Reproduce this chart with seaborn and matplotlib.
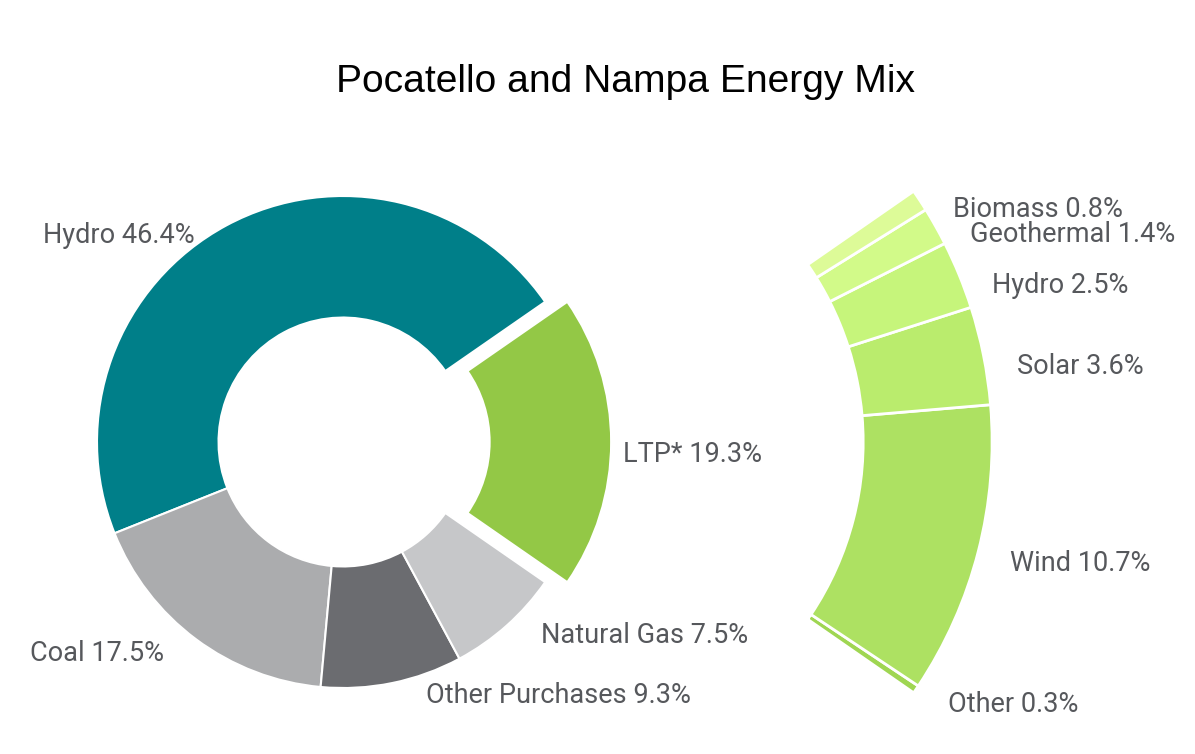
import numpy as np
import matplotlib
matplotlib.use("Agg")
import matplotlib.pyplot as plt
import seaborn as sns

# energy mix data (percent)
main_labels = ["LTP*", "Hydro", "Coal", "Other Purchases", "Natural Gas"]
main_values = [19.3, 46.4, 17.5, 9.3, 7.5]
main_colors = ["#93C846", "#007F89", "#ABACAE", "#6B6C70", "#C6C7C9"]

# LTP breakdown, counter-clockwise from the bottom
ltp_labels = ["Other", "Wind", "Solar", "Hydro", "Geothermal", "Biomass"]
ltp_values = [0.3, 10.7, 3.6, 2.5, 1.4, 0.8]
ltp_colors = ["#9FD652", "#ADE162", "#BAEC6D", "#C6F57B", "#D2FA89", "#DDFB98"]

sns.set_theme(style="white")
plt.rcParams["font.family"] = ["Roboto", "DejaVu Sans"]

fig = plt.figure(figsize=(11.95, 7.54), dpi=100)
ax = fig.add_axes([0, 0, 1, 1])

# pixel layout helpers (top-left pixel coords -> data units)
cx_px, cy_px, unit = 343, 442, 246.0


def px(x, y):
    return ((x - cx_px) / unit, (cy_px - y) / unit)


start = -main_values[0] / sum(main_values) * 180

ax.pie(main_values, colors=main_colors, startangle=start, radius=1.0,
       explode=[0.09, 0, 0, 0, 0], center=(0, 0),
       wedgeprops=dict(width=0.494, edgecolor="white", linewidth=1.5))

ax.pie(np.array(ltp_values) / 100, normalize=False, colors=ltp_colors,
       startangle=start, radius=1.789, center=px(552, 442),
       wedgeprops=dict(width=0.524, edgecolor="white", linewidth=2))

ax.set_xlim(px(0, 0)[0], px(1195, 0)[0])
ax.set_ylim(px(0, 754)[1], px(0, 0)[1])
ax.set_aspect("equal", adjustable="box")
ax.axis("off")

label_color = "#56585C"
fs = 19.5

# main donut labels: (x, baseline, ha)
main_pos = [(623, 462, "left"), (195, 243, "right"), (30, 661, "left"),
            (426, 703, "left"), (541, 643, "left")]
for name, val, (x, y, ha) in zip(main_labels, main_values, main_pos):
    ax.text(*px(x, y), f"{name} {val}%", ha=ha, va="baseline",
            fontsize=fs, color=label_color)

ltp_pos = [(948, 712), (1010, 571), (1017, 374), (992, 293), (970, 242),
           (953, 217)]
for name, val, (x, y) in zip(ltp_labels, ltp_values, ltp_pos):
    ax.text(*px(x, y), f"{name} {val}%", ha="left", va="baseline",
            fontsize=fs, color=label_color)

ax.text(*px(626, 92), "Pocatello and Nampa Energy Mix", ha="center",
        va="baseline", fontsize=28.1, color="black",
        family=["Liberation Sans", "DejaVu Sans"])

fig.savefig("out.png", dpi=100)
